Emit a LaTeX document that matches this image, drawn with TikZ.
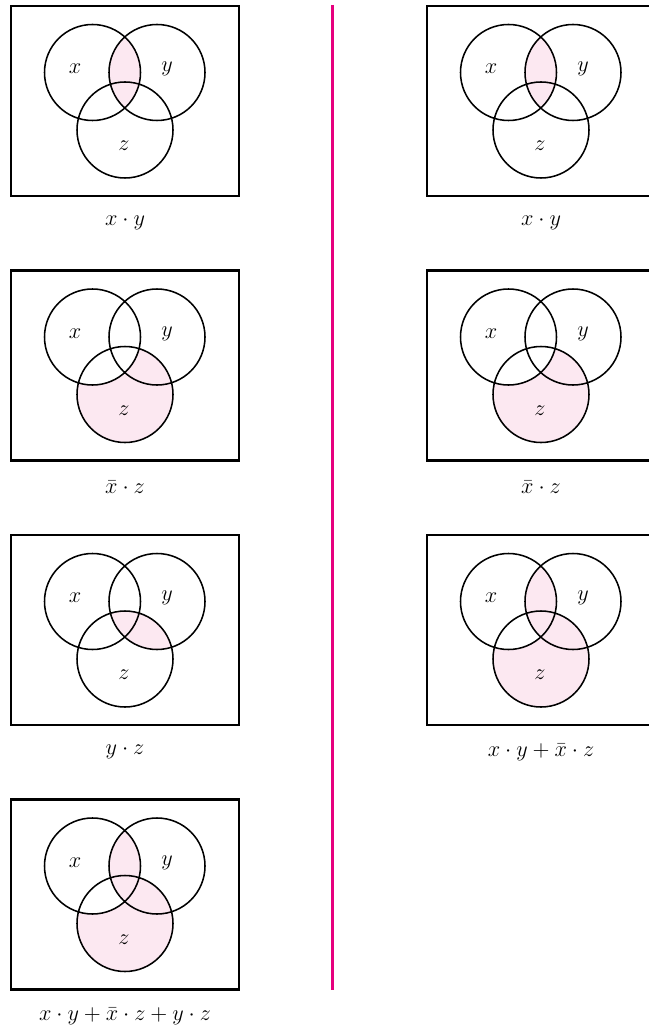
\documentclass[tikz,border=0pt]{standalone}
\usetikzlibrary{positioning}
\definecolor{vennpink}{HTML}{FCE8F1}
\definecolor{rulemagenta}{HTML}{E6007E}

\tikzset{
  frame/.style={line width=2pt},
  ring/.style={line width=1.1pt},
  lbl/.style={font=\Large, scale=1.1, inner sep=0pt},
}

% shaded regions, drawn inside a panel
\newcommand{\shadexy}{\begin{scope}\clip (cx) circle (48); \fill (cy) circle (48);\end{scope}}
\newcommand{\shadeyz}{\begin{scope}\clip (cy) circle (48); \fill (cz) circle (48);\end{scope}}
\newcommand{\shadenxz}{\begin{scope}\clip (cz) circle (48); \fill[even odd rule] (-10,-10) rectangle (240,200) (cx) circle (48);\end{scope}}

% #1 left, #2 top, #3 shading, #4 caption, #5 name
\newcommand{\vennpanel}[5]{%
  \begin{scope}[shift={(#1,#2)}]
    \coordinate (cx) at (81.5,66.5);
    \coordinate (cy) at (146,66.5);
    \coordinate (cz) at (114,124);
    \begin{scope}[fill=vennpink] #3 \end{scope}
    \draw[ring] (cx) circle (48) (cy) circle (48) (cz) circle (48);
    \draw[frame] (0,0) rectangle (228,190);
    \node[lbl] (#5x) at (64,63) {$x$};
    \node[lbl] (#5y) at (156,63) {$y$};
    \node[lbl] (#5z) at (113,140) {$z$};
    \node[lbl] (#5cap) at (114,217) {#4};
  \end{scope}}

\begin{document}
\begin{tikzpicture}[x=0.025cm, y=-0.025cm]
  \useasboundingbox (0,0) rectangle (649,1030);
  % left column
  \vennpanel{11}{6}{\shadexy}{$x\cdot y$}{la}
  \vennpanel{11}{270.5}{\shadenxz}{$\bar{x}\cdot z$}{lb}
  \vennpanel{11}{535}{\shadeyz}{$y\cdot z$}{lc}
  \vennpanel{11}{799.5}{\shadexy\shadenxz}{$x\cdot y+\bar{x}\cdot z+y\cdot z$}{ld}
  % right column
  \vennpanel{427}{6}{\shadexy}{$x\cdot y$}{ra}
  \vennpanel{427}{270.5}{\shadenxz}{$\bar{x}\cdot z$}{rb}
  \vennpanel{427}{535}{\shadexy\shadenxz}{$x\cdot y+\bar{x}\cdot z$}{rc}
  % divider
  \coordinate (top) at (332.5,5);
  \coordinate (bot) at (332.5,990);
  \draw[rulemagenta, line width=1.8pt] (top) -- (bot);
\end{tikzpicture}
\end{document}
